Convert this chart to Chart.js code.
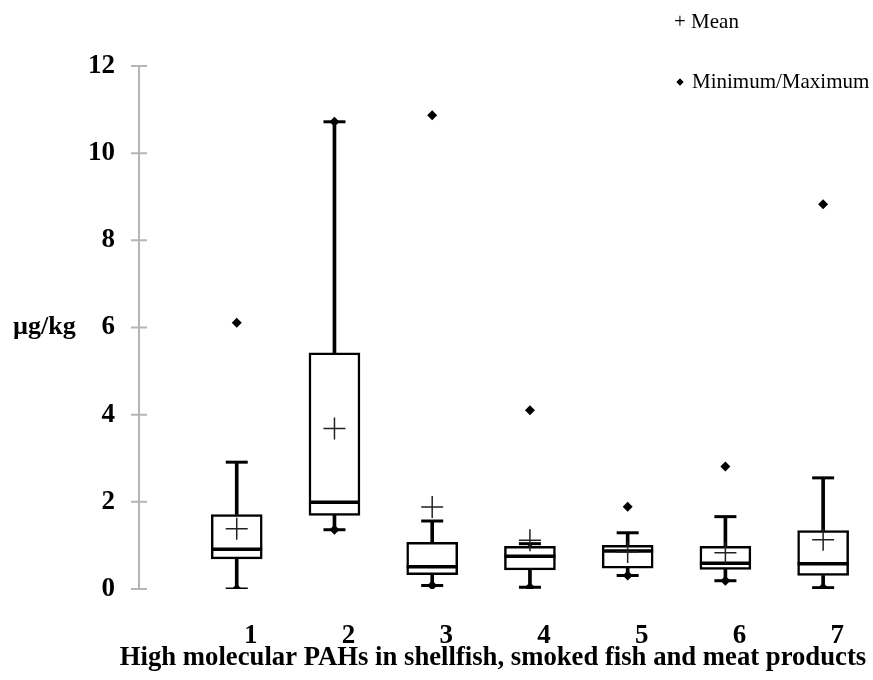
<!DOCTYPE html>
<html>
<head>
<meta charset="utf-8">
<script src="https://cdn.jsdelivr.net/npm/chart.js@4"></script>
<style>
  body { margin:0; background:#fff; }
  #wrap { width:873px; height:680px; }
</style>
</head>
<body>
<div id="wrap"><canvas id="boxChart" width="873" height="680"></canvas></div>
<script>
// -------- data (µg/kg) --------
const groups      = [1, 2, 3, 4, 5, 6, 7];
const mins        = [0.00, 1.36, 0.08, 0.04, 0.31, 0.19, 0.03];
const whiskerLow  = [0.00, 1.36, 0.08, 0.04, 0.31, 0.19, 0.03];
const q1          = [0.69, 1.69, 0.33, 0.44, 0.48, 0.45, 0.31];
const medians     = [0.91, 1.99, 0.51, 0.75, 0.87, 0.59, 0.58];
const q3          = [1.71, 5.42, 1.07, 0.98, 1.00, 0.98, 1.34];
const whiskerHigh = [2.91, 10.72, 1.56, 1.04, 1.29, 1.66, 2.55];
const maxs        = [6.11, 10.72, 10.87, 4.10, 1.89, 2.81, 8.83];
const means       = [1.38, 3.68, 1.88, 1.12, 0.85, 0.83, 1.13];
const yTicks      = [0, 2, 4, 6, 8, 10, 12];

const xTitle = "High molecular PAHs in shellfish, smoked fish and meat products";
const yTitle = "µg/kg";
const legendMean = "Mean";
const legendMinMax = "Minimum/Maximum";

const serif = "'Liberation Serif','Times New Roman',serif";

// -------- helpers --------
const pts = arr => arr.map((v,i)=>({x:groups[i], y:v}));
const ranges = (lo,hi) => lo.map((v,i)=>({x:groups[i], y:[v, hi[i]]}));

// -------- axis + labels drawn by hand --------
const decorPlugin = {
  id:'decor',
  beforeDatasetsDraw(chart){
    const ctx = chart.ctx, y = chart.scales.y, ax = chart.chartArea.left;
    ctx.save();
    ctx.strokeStyle = '#b5b5b5';
    ctx.lineWidth = 2;
    ctx.beginPath();
    ctx.moveTo(ax, y.getPixelForValue(yTicks[yTicks.length-1]));
    ctx.lineTo(ax, y.getPixelForValue(yTicks[0]));
    yTicks.forEach(t=>{
      let py = y.getPixelForValue(t);
      ctx.moveTo(ax-8, py);
      ctx.lineTo(ax+8, py);
    });
    ctx.stroke();
    ctx.restore();
  },
  afterDraw(chart){
    const ctx = chart.ctx, y = chart.scales.y;
    ctx.save();
    ctx.fillStyle = '#000';
    // y unit label, level with the 6 tick
    ctx.font = "bold 26px " + serif;
    ctx.textAlign = 'left';
    ctx.textBaseline = 'middle';
    ctx.fillText(yTitle, 13, y.getPixelForValue(6));
    // x title
    ctx.font = "bold 26.7px " + serif;
    ctx.textAlign = 'center';
    ctx.fillText(xTitle, 493, 658);
    // legend
    ctx.textAlign = 'left';
    ctx.font = "21px " + serif;
    ctx.fillText("+ " + legendMean, 674, 22);
    Chart.helpers.drawPoint(ctx, {pointStyle:'rectRot', radius:3.5, borderWidth:0}, 680, 82);
    ctx.fill();
    ctx.fillText(legendMinMax, 692, 82);
    ctx.restore();
  }
};

new Chart(document.getElementById('boxChart'),{
  type:'bar',
  data:{
    datasets:[
      {type:'scatter', label:'Mean', data:pts(means), pointStyle:'cross', pointRadius:11,
       borderColor:'#222', pointBorderWidth:1.5, order:0},
      {type:'scatter', label:'Min/Max', data:pts(mins).concat(pts(maxs)), pointStyle:'rectRot', pointRadius:5,
       backgroundColor:'#000', borderColor:'#000', pointBorderWidth:0, order:1},
      {type:'scatter', label:'Median', data:pts(medians), pointStyle:'line', pointRadius:25.5,
       borderColor:'#000', pointBorderWidth:3.5, order:2},
      {type:'scatter', label:'Caps', data:pts(whiskerLow).concat(pts(whiskerHigh)), pointStyle:'line', pointRadius:11,
       borderColor:'#000', pointBorderWidth:3, order:3},
      {label:'Box', data:ranges(q1,q3), barThickness:51, grouped:false,
       backgroundColor:'#fff', borderColor:'#000', borderWidth:2.5, borderSkipped:false, order:4},
      {label:'Upper', data:ranges(q3,whiskerHigh), barThickness:3, grouped:false,
       backgroundColor:'#000', borderWidth:0, order:5},
      {label:'Lower', data:ranges(whiskerLow,q1), barThickness:3, grouped:false,
       backgroundColor:'#000', borderWidth:0, order:6}
    ]
  },
  options:{
    responsive:false,
    animation:false,
    layout:{autoPadding:false, padding:{top:66, right:1, bottom:0, left:0}},
    plugins:{legend:{display:false}, tooltip:{enabled:false}},
    scales:{
      x:{
        type:'linear', min:0, max:7.5, offset:false,
        grid:{display:false, drawTicks:false},
        border:{display:false},
        afterBuildTicks:s => { s.ticks = groups.map(v=>({value:v})); },
        ticks:{
          autoSkip:false, maxRotation:0, padding:31, labelOffset:14,
          color:'#000', font:{family:serif, size:27, weight:'bold'},
          callback:v => String(v)
        },
        afterFit:s => { s.height = 91; s.paddingLeft = 0; s.paddingRight = 0; }
      },
      y:{
        min:0, max:12,
        grid:{display:false, drawTicks:false},
        border:{display:false},
        ticks:{
          stepSize:2, padding:24, color:'#000',
          font:{family:serif, size:27, weight:'bold'}
        },
        afterFit:s => { s.width = 139; }
      }
    }
  },
  plugins:[decorPlugin]
});
</script>
</body>
</html>
